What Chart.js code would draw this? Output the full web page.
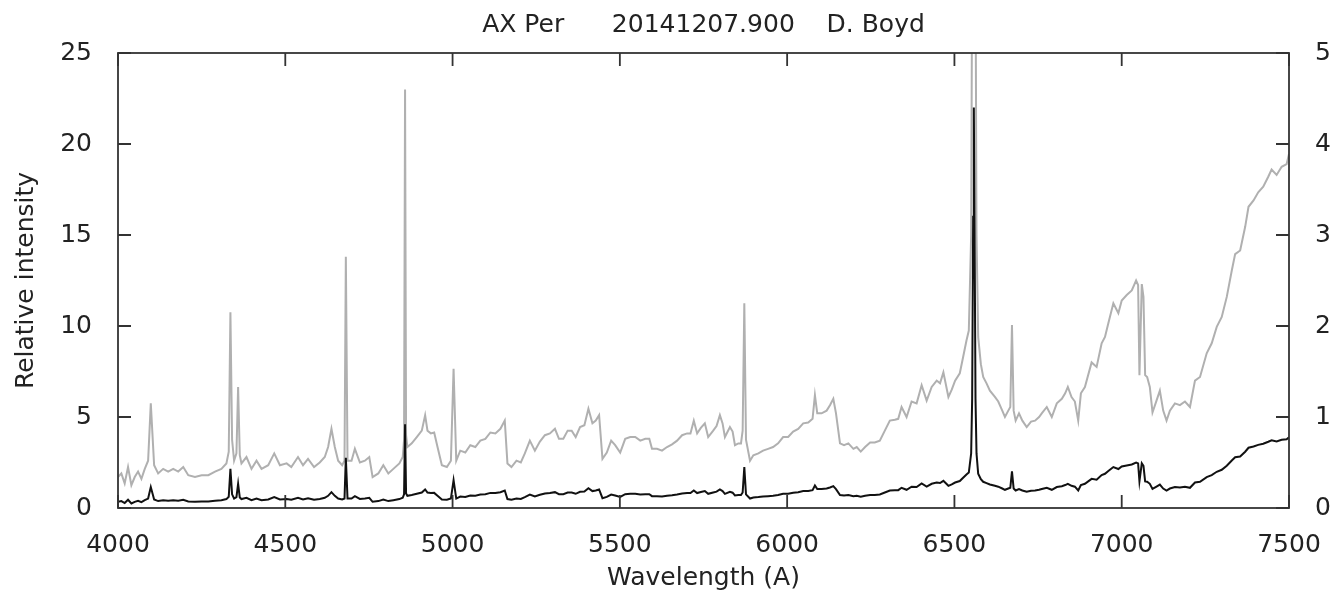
<!DOCTYPE html>
<html>
<head>
<meta charset="utf-8">
<title>AX Per spectrum</title>
<script src="https://cdn.jsdelivr.net/npm/chart.js@4.4.1/dist/chart.umd.min.js"></script>
<style>
  html, body { margin: 0; padding: 0; background: #fff; }
  #wrap { width: 1342px; height: 594px; position: relative; }
</style>
</head>
<body>
<div id="wrap"><canvas id="spectrum"></canvas></div>
<script>
// Spectrum: wavelength (A) and relative intensity
const wavelength = [
  4000, 4010, 4020, 4030, 4040, 4050, 4060, 4070, 4080, 4090, 4098, 4108, 4120, 4135, 4150, 4165,
  4180, 4195, 4210, 4230, 4250, 4270, 4290, 4309, 4324, 4331, 4336, 4341, 4347, 4354, 4359, 4364,
  4369, 4384, 4399, 4414, 4429, 4449, 4467, 4484, 4504, 4518, 4538, 4553, 4568, 4586, 4603, 4618,
  4628, 4638, 4648, 4658, 4670, 4677, 4681, 4686, 4698, 4708, 4723, 4738, 4751, 4761, 4778, 4793,
  4808, 4823, 4841, 4851, 4855, 4858, 4861, 4865, 4878, 4893, 4908, 4918, 4925, 4935, 4945, 4955,
  4968, 4983, 4995, 5003, 5011, 5023, 5038, 5053, 5068, 5083, 5098, 5113, 5128, 5143, 5156, 5164,
  5176, 5191, 5204, 5216, 5231, 5246, 5261, 5276, 5291, 5306, 5318, 5331, 5344, 5356, 5368, 5381,
  5394, 5406, 5418, 5428, 5438, 5448, 5461, 5474, 5486, 5501, 5516, 5531, 5546, 5561, 5576, 5588,
  5596, 5611, 5626, 5641, 5656, 5671, 5686, 5701, 5711, 5721, 5731, 5742, 5754, 5764, 5779, 5789,
  5799, 5807, 5814, 5829, 5837, 5844, 5854, 5862, 5867, 5872, 5877, 5889, 5899, 5914, 5928, 5943,
  5958, 5973, 5988, 6003, 6018, 6033, 6048, 6063, 6076, 6083, 6090, 6103, 6118, 6128, 6138, 6146,
  6158, 6170, 6183, 6198, 6208, 6220, 6233, 6248, 6262, 6277, 6292, 6307, 6322, 6332, 6342, 6357,
  6372, 6387, 6402, 6417, 6432, 6447, 6457, 6467, 6482, 6492, 6502, 6516, 6526, 6536, 6543, 6550,
  6553, 6556, 6558, 6560, 6563, 6566, 6571, 6579, 6586, 6596, 6606, 6621, 6631, 6643, 6651, 6661,
  6667, 6672, 6677, 6683, 6693, 6703, 6716, 6729, 6741, 6753, 6761, 6776, 6791, 6806, 6821, 6831,
  6839, 6850, 6860, 6870, 6878, 6890, 6910, 6925, 6940, 6950, 6960, 6975, 6990, 7000, 7015, 7030,
  7043, 7049, 7053, 7060, 7065, 7070, 7076, 7084, 7092, 7104, 7114, 7124, 7134, 7144, 7159, 7174,
  7189, 7204, 7219, 7234, 7254, 7269, 7284, 7299, 7314, 7329, 7339, 7354, 7369, 7379, 7394, 7408,
  7423, 7438, 7448, 7463, 7478, 7493, 7500
];
const flux = [
  0.34, 0.38, 0.27, 0.45, 0.25, 0.34, 0.40, 0.32, 0.43, 0.52, 1.15, 0.47, 0.38, 0.43, 0.40, 0.43,
  0.40, 0.45, 0.36, 0.34, 0.36, 0.36, 0.40, 0.43, 0.49, 0.62, 2.15, 0.75, 0.52, 0.60, 1.33, 0.58,
  0.49, 0.56, 0.43, 0.52, 0.43, 0.47, 0.60, 0.47, 0.49, 0.45, 0.56, 0.47, 0.54, 0.45, 0.50, 0.56,
  0.67, 0.87, 0.67, 0.52, 0.47, 0.52, 2.76, 0.52, 0.52, 0.65, 0.50, 0.52, 0.56, 0.34, 0.38, 0.47,
  0.38, 0.43, 0.49, 0.56, 0.75, 4.60, 0.80, 0.67, 0.71, 0.78, 0.85, 1.02, 0.85, 0.82, 0.83, 0.67,
  0.47, 0.45, 0.52, 1.53, 0.52, 0.63, 0.61, 0.69, 0.67, 0.74, 0.76, 0.83, 0.82, 0.87, 0.96, 0.49,
  0.45, 0.52, 0.50, 0.60, 0.74, 0.63, 0.73, 0.80, 0.82, 0.87, 0.76, 0.76, 0.85, 0.85, 0.78, 0.89,
  0.91, 1.09, 0.93, 0.96, 1.02, 0.54, 0.61, 0.74, 0.69, 0.61, 0.76, 0.78, 0.78, 0.74, 0.76, 0.76,
  0.65, 0.65, 0.63, 0.67, 0.70, 0.74, 0.80, 0.82, 0.82, 0.96, 0.82, 0.88, 0.93, 0.78, 0.85, 0.90,
  1.02, 0.93, 0.78, 0.89, 0.84, 0.69, 0.71, 0.71, 0.85, 2.25, 0.75, 0.52, 0.58, 0.60, 0.63, 0.65,
  0.67, 0.71, 0.78, 0.78, 0.84, 0.87, 0.93, 0.94, 0.98, 1.24, 1.04, 1.04, 1.07, 1.13, 1.20, 1.04,
  0.71, 0.69, 0.71, 0.65, 0.67, 0.62, 0.67, 0.72, 0.72, 0.74, 0.85, 0.96, 0.97, 0.98, 1.11, 1.00,
  1.17, 1.15, 1.35, 1.18, 1.33, 1.40, 1.37, 1.49, 1.22, 1.30, 1.40, 1.48, 1.66, 1.84, 1.95, 3.00,
  6.00, 16.0, 22.0, 16.0, 6.00, 3.00, 1.88, 1.58, 1.44, 1.37, 1.29, 1.22, 1.17, 1.07, 1.00, 1.07,
  1.11, 2.01, 1.07, 0.96, 1.04, 0.96, 0.89, 0.95, 0.96, 1.00, 1.04, 1.11, 1.00, 1.15, 1.20, 1.26,
  1.33, 1.22, 1.17, 0.96, 1.26, 1.33, 1.60, 1.55, 1.81, 1.88, 2.03, 2.25, 2.14, 2.28, 2.34, 2.39,
  2.50, 2.45, 1.46, 2.46, 2.32, 1.46, 1.44, 1.33, 1.05, 1.18, 1.29, 1.07, 0.96, 1.07, 1.15, 1.13,
  1.17, 1.11, 1.40, 1.44, 1.70, 1.81, 1.99, 2.10, 2.32, 2.61, 2.79, 2.83, 3.09, 3.31, 3.38, 3.47,
  3.53, 3.64, 3.72, 3.66, 3.75, 3.78, 3.89
];

// Axes
const xTicks = [4000, 4500, 5000, 5500, 6000, 6500, 7000, 7500];
const yLeftTicks = [0, 5, 10, 15, 20, 25];
const yRightTicks = [0, 1, 2, 3, 4, 5];
const chartTitle = "AX Per      20141207.900    D. Boyd";

const TICK_LEN = 13;

Chart.defaults.font.family = "'DejaVu Sans', Verdana, sans-serif";
Chart.defaults.font.size = 25;
Chart.defaults.color = "#222222";

// gnuplot style frame: box around plot, ticks pointing inwards, title over the plot
const framePlugin = {
  id: 'framePlugin',
  afterDatasetsDraw(chart) {
    const { ctx, chartArea: a, scales } = chart;
    ctx.save();
    ctx.strokeStyle = "#333333";
    ctx.lineWidth = 1.8;
    ctx.strokeRect(a.left, a.top, a.right - a.left, a.bottom - a.top);

    ctx.beginPath();
    xTicks.forEach(v => {
      const px = scales.x.getPixelForValue(v);
      ctx.moveTo(px, a.bottom);
      ctx.lineTo(px, a.bottom - TICK_LEN);
      ctx.moveTo(px, a.top);
      ctx.lineTo(px, a.top + TICK_LEN);
    });
    yLeftTicks.forEach(v => {
      const py = scales.y.getPixelForValue(v);
      ctx.moveTo(a.left, py);
      ctx.lineTo(a.left + TICK_LEN, py);
    });
    yRightTicks.forEach(v => {
      const py = scales.y2.getPixelForValue(v);
      ctx.moveTo(a.right, py);
      ctx.lineTo(a.right - TICK_LEN, py);
    });
    ctx.stroke();

    ctx.fillStyle = "#222222";
    ctx.font = "25px 'DejaVu Sans', Verdana, sans-serif";
    ctx.textAlign = "center";
    ctx.textBaseline = "middle";
    ctx.fillText(chartTitle, (a.left + a.right) / 2, 25);
    ctx.restore();
  }
};

const points = wavelength.map((w, i) => ({ x: w, y: flux[i] }));

new Chart(document.getElementById("spectrum"), {
  type: "line",
  data: {
    datasets: [
      {
        label: "Relative intensity",
        data: points,
        yAxisID: "y",
        borderColor: "#111111",
        borderWidth: 2,
        pointRadius: 0,
        tension: 0,
        fill: false
      },
      {
        label: "Relative intensity x5",
        data: points,
        yAxisID: "y2",
        borderColor: "#b0b0b0",
        borderWidth: 2,
        pointRadius: 0,
        tension: 0,
        fill: false
      }
    ]
  },
  options: {
    responsive: true,
    maintainAspectRatio: false,
    animation: false,
    events: [],
    layout: {
      autoPadding: false,
      padding: { top: 53, left: 0, right: 0, bottom: 0 }
    },
    plugins: {
      legend: { display: false },
      tooltip: { enabled: false },
      title: { display: false }
    },
    scales: {
      x: {
        type: "linear",
        min: 4000,
        max: 7500,
        grid: { display: false },
        border: { display: false },
        afterBuildTicks: scale => { scale.ticks = xTicks.map(v => ({ value: v })); },
        ticks: {
          autoSkip: false,
          maxRotation: 0,
          padding: 14,
          callback: v => String(v)
        },
        title: {
          display: true,
          text: "Wavelength (A)",
          padding: { top: 0, bottom: 1 }
        },
        afterFit: scale => {
          scale.height = 86;
          scale.paddingLeft = 0;
          scale.paddingRight = 0;
        }
      },
      y: {
        position: "left",
        min: 0,
        max: 25,
        grid: { display: false },
        border: { display: false },
        afterBuildTicks: scale => { scale.ticks = yLeftTicks.map(v => ({ value: v })); },
        ticks: {
          padding: 18,
          callback: v => String(v)
        },
        title: {
          display: true,
          text: "Relative intensity",
          padding: { top: 11, bottom: 0 }
        },
        afterFit: scale => {
          scale.width = 118;
          scale.paddingTop = 0;
          scale.paddingBottom = 0;
        }
      },
      y2: {
        position: "right",
        min: 0,
        max: 5,
        grid: { display: false },
        border: { display: false },
        afterBuildTicks: scale => { scale.ticks = yRightTicks.map(v => ({ value: v })); },
        ticks: {
          padding: 18,
          callback: v => String(v)
        },
        afterFit: scale => {
          scale.width = 53;
          scale.paddingTop = 0;
          scale.paddingBottom = 0;
        }
      }
    }
  },
  plugins: [framePlugin]
});
</script>
</body>
</html>
